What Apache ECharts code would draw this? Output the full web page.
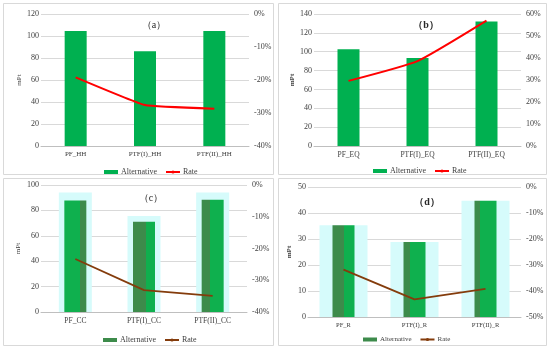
<!DOCTYPE html>
<html><head><meta charset="utf-8">
<script src="https://cdn.jsdelivr.net/npm/echarts@6/dist/echarts.min.js"></script>
<style>html,body{margin:0;padding:0;background:#fff}#c{width:550px;height:351px}</style>
</head><body><div id="c"></div>
<script>
// ---- data ----
const catsA = ['PF_HH', 'PTF(I)_HH', 'PTF(II)_HH'];
const altA = [104.5, 86.2, 104.5];
const rateA = [-19.2, -27.6, -28.7];

const catsB = ['PF_EQ', 'PTF(I)_EQ', 'PTF(II)_EQ'];
const altB = [102.5, 93.4, 132];
const rateB = [29.6, 38.6, 57];

const catsC = ['PF_CC', 'PTF(I)_CC', 'PTF(II)_CC'];
const altC = [87.8, 71, 88.3];
const rateC = [-23.3, -33.1, -34.9];
const haloC = [94, 75.5, 94];

const catsD = ['PF_R', 'PTF(I)_R', 'PTF(II)_R'];
const altD = [35.3, 28.8, 44.7];
const rateD = [-31.8, -43.2, -39.2];
const haloD = [35.3, 28.8, 44.7];

const titles = ['（a）', '（b）', '（c）', '（d）'];

// ---- styles ----
const FONT = 'Liberation Serif';
const TXT = '#404040';
const GRID_C = '#d9d9d9';
const BRIGHT = '#0fb04e';
const DARK = '#3d8b4b';
const HALO = '#d6fbfb';

function twoTone(split, leftDark) {
  const a = leftDark ? DARK : BRIGHT, b = leftDark ? BRIGHT : DARK;
  return new echarts.graphic.LinearGradient(0, 0, 1, 0, [
    {offset: 0, color: a}, {offset: split, color: a},
    {offset: split, color: b}, {offset: 1, color: b}]);
}
const toneC = [twoTone(0.72, false), twoTone(0.6, true), twoTone(0.4, true)];
const toneD = [twoTone(0.5, true), twoTone(0.3, true), twoTone(0.25, true)];

const grids = [
  {left: 41, top: 14, width: 208, height: 132},
  {left: 314, top: 14, width: 207, height: 132},
  {left: 41, top: 185, width: 206, height: 127},
  {left: 308, top: 187, width: 213, height: 130}
];

const cats = [catsA, catsB, catsC, catsD];
const leftAx = [[0, 120, 20], [0, 140, 20], [0, 100, 20], [0, 50, 10]];
const rightAx = [[-40, 0, 10], [0, 60, 10], [-40, 0, 10], [-50, 0, 10]];
const xFont = [7, 7.5, 7.5, 6.5];

const xAxis = [], yAxis = [], series = [], legend = [], title = [];
for (let i = 0; i < 4; i++) {
  xAxis.push({type: 'category', gridIndex: i, data: cats[i],
    axisLine: {lineStyle: {color: '#bfbfbf'}}, axisTick: {show: false},
    axisLabel: {fontFamily: FONT, fontSize: xFont[i], color: TXT, margin: 5}});
  yAxis.push({type: 'value', gridIndex: i, min: leftAx[i][0], max: leftAx[i][1], interval: leftAx[i][2],
    name: 'mPt', nameLocation: 'middle', nameRotate: 90, nameGap: [14, 14, 19, 15][i],
    nameTextStyle: {fontFamily: FONT, fontSize: 7, color: TXT, fontWeight: i % 2 ? 'bold' : 'normal'},
    axisLine: {show: false}, axisTick: {show: false},
    splitLine: {lineStyle: {color: GRID_C}},
    axisLabel: {fontFamily: FONT, fontSize: 8, color: TXT, margin: 2}});
  yAxis.push({type: 'value', gridIndex: i, position: 'right', min: rightAx[i][0], max: rightAx[i][1], interval: rightAx[i][2],
    axisLine: {show: false}, axisTick: {show: false}, splitLine: {show: false},
    axisLabel: {fontFamily: FONT, fontSize: 8, color: TXT, margin: 5, formatter: '{value}%'}});
}
// hidden axes for halos (c),(d)
xAxis.push({type: 'category', gridIndex: 2, data: catsC, show: false});
xAxis.push({type: 'category', gridIndex: 3, data: catsD, show: false});

const alts = [altA, altB, altC, altD];
const rates = [rateA, rateB, rateC, rateD];
const tags = ['a', 'b', 'c', 'd'];
const smooths = [0.1, 0.15, false, false];
for (let i = 0; i < 4; i++) {
  const dark = i >= 2;
  const tone = i === 2 ? toneC : toneD;
  series.push({type: 'bar', name: 'Alternative#' + tags[i], xAxisIndex: i, yAxisIndex: 2 * i,
    barWidth: 22, z: 3,
    itemStyle: {color: dark ? DARK : '#00b050'},
    data: alts[i].map((v, k) => dark ? {value: v, itemStyle: {color: tone[k]}} : v)});
  series.push({type: 'line', name: 'Rate#' + tags[i], xAxisIndex: i, yAxisIndex: 2 * i + 1,
    symbol: 'none', smooth: smooths[i], z: 5,
    lineStyle: {color: dark ? '#843c0c' : '#ff0000', width: dark ? 1.8 : 2},
    itemStyle: {color: dark ? '#843c0c' : '#ff0000'},
    data: rates[i]});
}
series.push({type: 'bar', name: 'haloC', xAxisIndex: 4, yAxisIndex: 4, barWidth: 33, z: 1,
  itemStyle: {color: HALO}, data: haloC, silent: true});
series.push({type: 'bar', name: 'haloD', xAxisIndex: 5, yAxisIndex: 6, barWidth: 48, z: 1,
  itemStyle: {color: HALO}, data: haloD, silent: true});

const legPos = [[99, 163], [368, 162], [98, 331], [358, 331]];
const titlePos = [[149, 15], [421, 15], [146, 188], [422, 192]];
for (let i = 0; i < 4; i++) {
  legend.push({left: legPos[i][0], top: legPos[i][1], itemWidth: 14, itemHeight: 4, itemGap: 8,
    data: [{name: 'Alternative#' + tags[i], icon: 'rect'}, {name: 'Rate#' + tags[i]}],
    formatter: n => n.split('#')[0], selectedMode: false,
    textStyle: {fontFamily: FONT, fontSize: i === 3 ? 7 : 8, color: TXT, padding: [0, 0, 0, -2]}});
  title.push({text: titles[i], left: titlePos[i][0], top: titlePos[i][1], textAlign: 'center',
    textStyle: {fontFamily: FONT, fontSize: 10, color: '#262626', fontWeight: i % 2 ? 'bold' : 'normal'}});
}

const panels = [[3, 3, 270, 171], [278, 3, 268, 171], [3, 178, 270, 167], [278, 178, 268, 167]];
const graphic = panels.map(p => ({type: 'rect', shape: {x: p[0] + 0.5, y: p[1] + 0.5, width: p[2], height: p[3]},
  style: {fill: 'none', stroke: '#d9d9d9', lineWidth: 1}, z: -1}));

const chart = echarts.init(document.getElementById('c'), null, {renderer: 'canvas'});
chart.setOption({animation: false, backgroundColor: '#fff', grid: grids, xAxis, yAxis, series, legend, title, graphic});
</script></body></html>
